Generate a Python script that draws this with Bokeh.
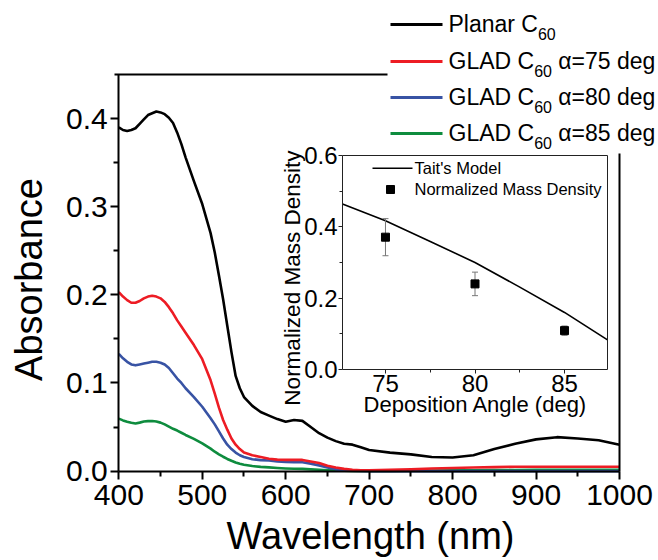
import math
from bokeh.plotting import figure
from bokeh.models import Range1d, LinearAxis, FixedTicker, PrintfTickFormatter
from bokeh.core.properties import value
from bokeh.embed import file_html
from bokeh.resources import INLINE

# ---------------- data ----------------
WAVELENGTH = [400, 405, 410, 415, 420, 425, 430, 435, 440, 445, 450, 455, 460, 465, 470, 475,
              480, 490, 500, 510, 515, 520, 525, 530, 535, 540, 545,
              550, 560, 570, 580, 590, 600, 610, 620, 630, 640, 650, 660, 670, 680, 690,
              700, 725, 750, 775, 800, 825, 850, 875, 900, 925, 950, 975, 1000]
PLANAR = [0.390, 0.387, 0.386, 0.387, 0.389, 0.394, 0.399, 0.404, 0.406, 0.408, 0.407, 0.405,
          0.401, 0.395, 0.384, 0.371,
          0.356, 0.329, 0.303, 0.270, 0.248, 0.222, 0.195, 0.165, 0.135, 0.108, 0.094,
          0.084, 0.074, 0.067, 0.063, 0.059, 0.056, 0.058, 0.057, 0.050,
          0.043, 0.038, 0.034, 0.031, 0.030, 0.027, 0.024, 0.021, 0.019, 0.016, 0.0155, 0.018,
          0.025, 0.031, 0.036, 0.0385, 0.037, 0.035, 0.030]
GLAD75 = [0.203, 0.198, 0.194, 0.191, 0.191, 0.193, 0.196, 0.198, 0.199, 0.198, 0.196, 0.192,
          0.186, 0.179, 0.171, 0.164,
          0.157, 0.143, 0.127, 0.103, 0.088, 0.072, 0.058, 0.047, 0.037, 0.030, 0.025,
          0.021, 0.018, 0.016, 0.014, 0.013, 0.0127, 0.0127, 0.0127, 0.011,
          0.0092, 0.006, 0.004, 0.0025, 0.0015, 0.001, 0.001, 0.0015, 0.002, 0.003, 0.0035, 0.004,
          0.0045, 0.005, 0.005, 0.005, 0.005, 0.005, 0.005]
GLAD80 = [0.133, 0.128, 0.124, 0.121, 0.120, 0.121, 0.122, 0.123, 0.124, 0.124, 0.123, 0.121,
          0.117, 0.111, 0.105, 0.100,
          0.094, 0.084, 0.073, 0.060, 0.053, 0.045, 0.037, 0.030, 0.025, 0.021, 0.018,
          0.016, 0.0135, 0.0125, 0.012, 0.011, 0.0105, 0.010, 0.010, 0.0085,
          0.0065, 0.004, 0.002, 0.001, 0.0005, 0.0002, 0.0, 0.0, 0.0, 0.0, 0.0, 0.0,
          0.0, 0.0, 0.0, 0.0, 0.0, 0.0, 0.0]
GLAD85 = [0.0595, 0.0575, 0.056, 0.0548, 0.054, 0.055, 0.0562, 0.0567, 0.0568, 0.0562, 0.055, 0.053,
          0.0505, 0.048, 0.046, 0.0435,
          0.041, 0.0365, 0.0315, 0.0255, 0.022, 0.019, 0.0163, 0.0138, 0.0117, 0.0098, 0.0083,
          0.0072, 0.0057, 0.0048, 0.0042, 0.0035, 0.003, 0.0027, 0.0025, 0.002,
          0.0015, 0.001, 0.0008, 0.0005, 0.0003, 0.0002, 0.0002, 0.0003, 0.0005, 0.0006, 0.0008, 0.001,
          0.0012, 0.0013, 0.0014, 0.0014, 0.0014, 0.0014, 0.0014]
SERIES_MAIN = ["Planar C", "GLAD C", "GLAD C", "GLAD C"]
SERIES_SUB = ["60", "60", "60", "60"]
SERIES_TAIL = ["", "\u03b1=75 deg", "\u03b1=80 deg", "\u03b1=85 deg"]
SERIES_COLORS = ["#000000", "#ED1C24", "#3853A4", "#0E8C3E"]

X_TICKS = [400, 500, 600, 700, 800, 900, 1000]
X_MINOR = [450, 550, 650, 750, 850, 950]
Y_TICKS = [0.0, 0.1, 0.2, 0.3, 0.4]
Y_MINOR = [0.05, 0.15, 0.25, 0.35]

# inset
ANGLE = [75, 80, 85]
DENSITY = [0.371, 0.240, 0.109]
DENSITY_ERR = [0.052, 0.033, 0.013]
MODEL_ANGLE = [72.6, 75, 77.5, 80, 82.5, 85, 87.4]
MODEL_DENSITY = [0.464, 0.417, 0.359, 0.300, 0.231, 0.160, 0.083]
INSET_X_TICKS = [75, 80, 85]
INSET_X_MINOR = [77.5, 82.5]
INSET_Y_TICKS = [0.0, 0.2, 0.4, 0.6]
INSET_Y_MINOR = [0.1, 0.3, 0.5]
INSET_LABELS = ["Tait's Model", "Normalized Mass Density"]

# ---------------- layout (pixel positions in the picture) ----------------
W, H = 656, 558
FONT = "Liberation Sans"
BASE_FIX = 0.37   # empirical shift between wanted baseline and drawn baseline (per em)

ML, MR, MT, MB = 118.3, 619.0, 74.0, 470.6
MX0, MX1, MY0, MY1 = 400, 1000, 0.0, 0.45
IL, IR, IT, IB = 342.0, 607.0, 155.0, 369.0
IX0, IX1, IY0, IY1 = 72.6, 87.4, 0.0, 0.6


def lin(p, p0, p1, v0, v1):
    return v0 + (p - p0) * (v1 - v0) / (p1 - p0)


def mx(px):
    return lin(px, ML, MR, MX0, MX1)


def my(py):
    return lin(py, MB, MT, MY0, MY1)


def ix(px):
    return lin(px, IL, IR, IX0, IX1)


def iy(py):
    return lin(py, IB, IT, IY0, IY1)


p = figure(width=W, height=H,
           x_range=Range1d(mx(0), mx(W)), y_range=Range1d(my(H), my(0)),
           x_axis_location=None, y_axis_location=None,
           output_backend="svg", toolbar_location=None, min_border=0)
p.extra_x_ranges = {"ix": Range1d(ix(0), ix(W))}
p.extra_y_ranges = {"iy": Range1d(iy(H), iy(0))}
p.outline_line_color = None
p.background_fill_color = "white"
p.border_fill_color = "white"
for g in p.grid:
    g.visible = False


def add_axis(side, loc, bounds, ticks=None, minor=None, fmt=None, inset=False,
             width=2, color="black", font_size="30px", tick_out=8, minor_out=5, standoff=4):
    kw = dict(x_range_name="ix", y_range_name="iy") if inset else {}
    ax = LinearAxis(fixed_location=loc, bounds=bounds, **kw)
    ax.axis_line_width = width
    ax.axis_line_color = color
    if ticks is None:
        ax.ticker = FixedTicker(ticks=[], minor_ticks=[])
        ax.major_tick_line_color = None
        ax.minor_tick_line_color = None
        ax.major_label_text_color = None
        ax.major_label_text_font_size = "1px"
    else:
        ax.ticker = FixedTicker(ticks=ticks, minor_ticks=minor)
        ax.formatter = PrintfTickFormatter(format=fmt)
        ax.major_tick_line_color = color
        ax.minor_tick_line_color = color
        ax.major_tick_line_width = width
        ax.minor_tick_line_width = width
        ax.major_tick_in = 0
        ax.major_tick_out = tick_out
        ax.minor_tick_in = 0
        ax.minor_tick_out = minor_out
        ax.major_label_text_font = FONT
        ax.major_label_text_font_size = font_size
        ax.major_label_text_color = "black"
        ax.major_label_standoff = standoff
    p.add_layout(ax, side)
    return ax


# main axes
add_axis("below", MY0, (MX0, MX1), X_TICKS, X_MINOR, "%d", standoff=6)
add_axis("left", MX0, (MY0, MY1), Y_TICKS, Y_MINOR, "%.1f", standoff=3)
add_axis("above", MY1, (mx(114), mx(387)))
add_axis("right", MX1, (MY0, my(153)))

# inset axes
add_axis("below", IY0, (IX0, IX1), INSET_X_TICKS, INSET_X_MINOR, "%d", inset=True,
         width=1, color="#222222", font_size="24px", tick_out=4, minor_out=3, standoff=1)
add_axis("left", IX0, (IY0, IY1), INSET_Y_TICKS, INSET_Y_MINOR, "%.1f", inset=True,
         width=1, color="#222222", font_size="24px", tick_out=4, minor_out=3, standoff=1)
add_axis("above", IY1, (IX0, IX1), inset=True, width=1, color="#222222")
add_axis("right", IX1, (IY0, IY1), inset=True, width=1, color="#222222")

# main curves
for ys, c in [(PLANAR, SERIES_COLORS[0]), (GLAD85, SERIES_COLORS[3]),
              (GLAD80, SERIES_COLORS[2]), (GLAD75, SERIES_COLORS[1])]:
    p.line(WAVELENGTH, ys, line_color=c, line_width=2.6, line_join="round")

# inset content
p.line(MODEL_ANGLE, MODEL_DENSITY, x_range_name="ix", y_range_name="iy",
       line_color="black", line_width=1.6)
lower = [d - e for d, e in zip(DENSITY, DENSITY_ERR)]
upper = [d + e for d, e in zip(DENSITY, DENSITY_ERR)]
p.segment(x0=ANGLE, y0=lower, x1=ANGLE, y1=upper, x_range_name="ix", y_range_name="iy",
          line_color="#777777", line_width=1)
p.scatter(ANGLE + ANGLE, lower + upper, marker="dash", size=6, x_range_name="ix",
          y_range_name="iy", line_color="#777777", line_width=1)
p.scatter(ANGLE, DENSITY, marker="square", size=8, x_range_name="ix", y_range_name="iy",
          fill_color="black", line_color="black")


# ---------------- text helper ----------------
def put_text(px, py, s, size, align="left", vertical=False):
    """px, py: wanted baseline anchor in picture pixels."""
    if vertical:
        px = px - BASE_FIX * size
    else:
        py = py - BASE_FIX * size
    p.text([mx(px)], [my(py)], text=[s], text_font=value(FONT), text_font_size=f"{size}px",
           text_baseline="alphabetic", text_align=align, text_color="black",
           angle=(math.pi / 2 if vertical else 0))


# ---------------- legend (main) ----------------
ARIAL_W = {' ': 0.278, 'P': 0.667, 'l': 0.222, 'a': 0.556, 'n': 0.556, 'r': 0.333,
           'C': 0.722, 'G': 0.778, 'L': 0.556, 'A': 0.667, 'D': 0.722, '\u03b1': 0.578,
           '=': 0.584, 'd': 0.556, 'e': 0.556, 'g': 0.556}


def text_w(s, size):
    return sum(ARIAL_W.get(ch, 0.556) for ch in s) * size


LEG_ROWS = [24, 61, 97, 133]
LEG_X0, LEG_X1, LEG_TX = 390, 442, 448
LEG_SIZE, SUB_SIZE = 23, 16
for i, row in enumerate(LEG_ROWS):
    p.line([mx(LEG_X0), mx(LEG_X1)], [my(row), my(row)], line_color=SERIES_COLORS[i], line_width=3)
    base = row + 8
    x1 = LEG_TX + text_w(SERIES_MAIN[i], LEG_SIZE)
    x2 = x1 + text_w(SERIES_SUB[i], SUB_SIZE) + text_w(" ", LEG_SIZE)
    put_text(LEG_TX, base, SERIES_MAIN[i], LEG_SIZE)
    put_text(x1, base + 7, SERIES_SUB[i], SUB_SIZE)
    if SERIES_TAIL[i]:
        put_text(x2, base, SERIES_TAIL[i], LEG_SIZE)

# ---------------- legend (inset) ----------------
p.line([mx(372), mx(412)], [my(167.7), my(167.7)], line_color="black", line_width=1.6)
p.scatter([mx(390)], [my(189)], marker="square", size=8, fill_color="black", line_color="black")
put_text(414, 173.5, INSET_LABELS[0], 16.5)
put_text(414, 195, INSET_LABELS[1], 16.5)

# ---------------- axis titles ----------------
put_text(370, 550, "Wavelength (nm)", 38, align="center")
put_text(42.7, 279, "Absorbance", 38, align="center", vertical=True)
put_text(475, 411.7, "Deposition Angle (deg)", 22, align="center")
put_text(300, 277.6, "Normalized Mass Density", 22.5, align="center", vertical=True)

open("out.html", "w").write(file_html(p, INLINE))
